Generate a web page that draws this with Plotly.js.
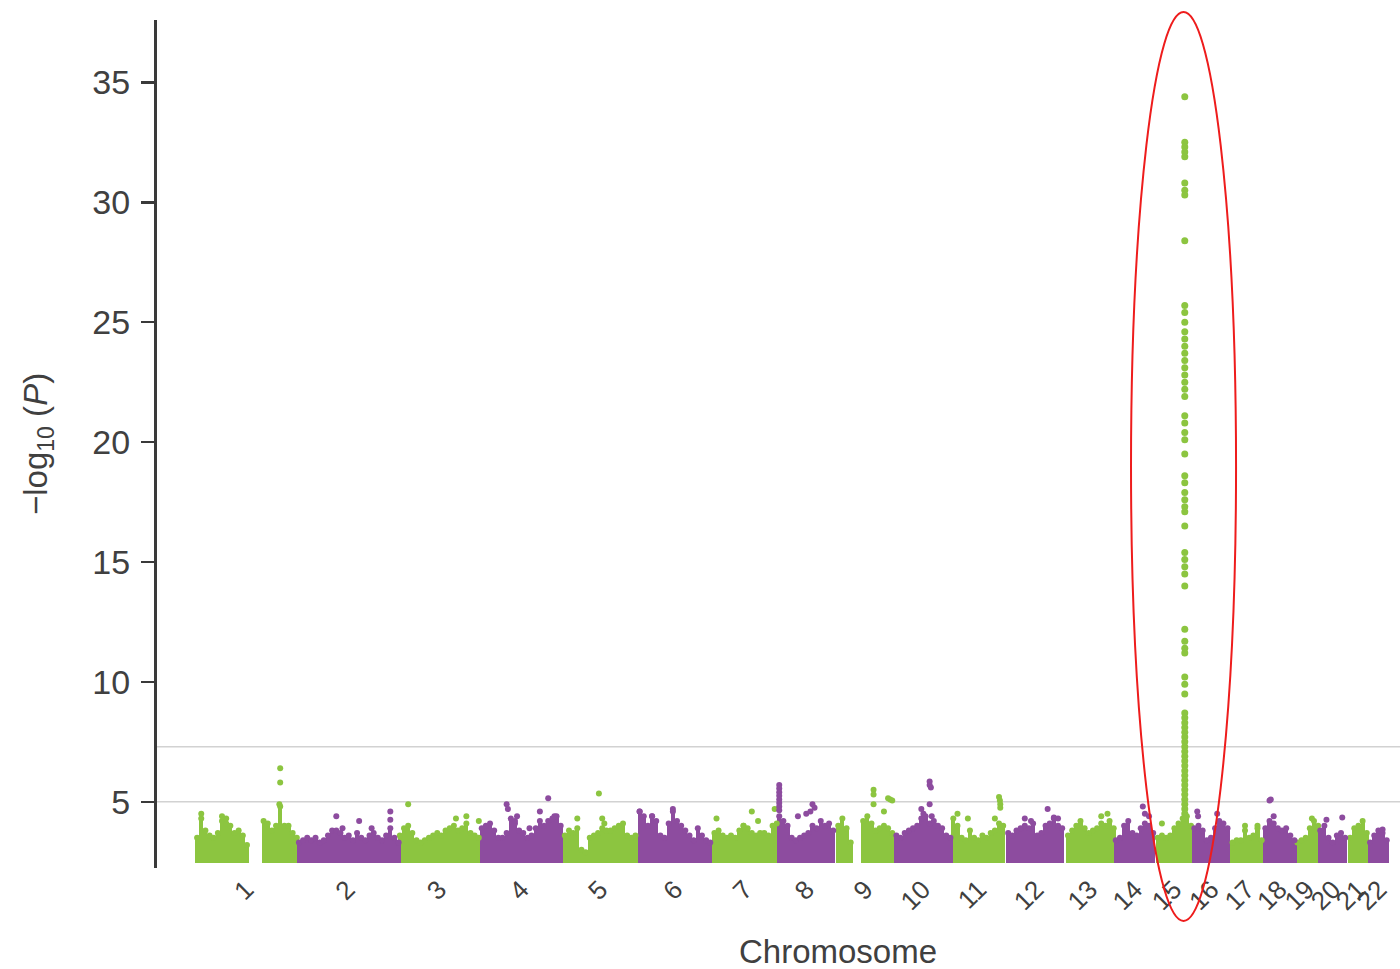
<!DOCTYPE html>
<html><head><meta charset="utf-8">
<script src="https://cdn.plot.ly/plotly-3.0.1.min.js"></script>
<style>html,body{margin:0;padding:0;background:#fff;overflow:hidden}#chart{width:1400px;height:969px}</style>
</head><body><div id="chart"></div>
<script>
// ---------------- DATA ----------------
const chromosomes = ['1','2','3','4','5','6','7','8','9','10','11','12','13','14','15','16','17','18','19','20','21','22'];
// plotted span of each chromosome (Mb)
const chromSpanMb = [245,243,197,200,180,180,156,142,140,137,132,144,115,101,88,92,79,77,55,72,48,53];
// top of the dense SNP cloud, one value per 10 Mb window (-log10 P); null = no SNPs
const columnTops = [
  [3.5,4.3,3.8,3.6,3.5,3.7,4.2,4.1,4.0,3.7,3.8,3.6,3.2,null,null,null,4.2,4.1,3.8,4.0,4.8,4.0,4.0,3.7,3.5],
  [3.3,3.4,3.5,3.4,3.5,3.3,3.4,3.6,3.8,3.8,3.7,3.5,3.6,3.4,3.7,3.5,3.4,3.6,3.7,3.5,3.4,3.6,3.9,3.5,3.3],
  [3.6,3.9,4.0,3.7,3.4,3.3,3.4,3.5,3.6,3.7,3.6,3.8,3.9,4.0,3.8,3.9,4.1,3.7,3.6,3.5],
  [3.9,4.0,4.1,3.8,3.5,3.5,3.7,4.3,4.1,3.8,3.7,3.5,3.6,3.9,4.2,4.0,4.2,4.3,4.4,4.0],
  [3.6,3.8,3.7,3.9,3.0,2.9,3.5,3.6,3.7,3.9,3.8,3.8,3.9,4.0,4.1,3.6,3.5,3.6],
  [4.6,4.4,4.0,4.4,4.2,3.6,3.5,4.1,4.7,4.2,4.0,3.8,3.6,3.4,3.9,3.6,3.4,3.3],
  [3.7,3.8,3.6,3.5,3.6,3.5,3.8,4.0,3.9,3.7,3.6,3.7,3.7,3.6,4.0,4.1],
  [4.4,4.2,4.0,3.5,3.4,3.5,3.6,3.7,4.0,3.9,4.2,4.0,4.1,3.8],
  [4.0,4.3,3.9,3.3,null,null,4.2,4.4,4.1,3.8,3.9,4.0,3.9,3.7],
  [3.6,3.5,3.7,3.8,3.9,4.0,4.3,4.4,4.1,4.2,4.0,3.9,3.6,3.5],
  [4.3,4.0,3.5,3.4,3.8,3.5,3.4,3.6,3.5,3.7,3.8,4.1,4.0],
  [3.7,3.6,3.8,3.9,4.0,3.9,4.1,3.6,3.7,4.0,4.1,4.3,4.0,3.9],
  [3.6,3.8,4.0,4.2,3.9,3.7,3.8,3.9,4.1,4.0,4.2,3.9],
  [3.4,3.5,4.0,4.2,3.7,3.6,3.9,4.1,4.0,3.7],
  [3.5,3.6,3.5,3.6,3.9,4.1,4.3,4.4,4.0],
  [3.9,4.0,3.8,3.4,3.5,3.9,4.2,4.1,3.9],
  [3.3,3.4,3.4,3.8,3.5,3.6,3.9,3.4],
  [3.9,4.2,4.1,3.9,3.8,3.9,3.6,3.4],
  [3.3,3.4,3.5,3.9,4.2,4.0],
  [3.8,4.0,3.5,3.3,3.6,3.7,3.5],
  [3.5,3.9,4.0,4.2,3.7],
  [3.3,3.6,3.8,3.7,3.4]
];
// isolated SNPs above the cloud: [position within chromosome (Mb), -log10 P]
const extraPoints = [
  [[15,4.5],[65,4.4],[75,4.3],[205,6.4],[205,5.8],[203,4.9]],
  [[95,4.4],[110,3.9],[150,4.2],[180,3.9],[225,4.6],[225,4.25]],
  [[25,4.9],[140,4.3],[165,4.4],[195,4.2]],
  [[65,4.9],[68,4.7],[85,4.2],[90,4.4],[120,3.9],[145,4.6],[165,5.15],[180,4.4]],
  [[35,4.3],[87,5.35],[95,4.3],[100,4.1]],
  [[5,4.6],[35,4.4],[85,4.6]],
  [[10,4.3],[75,4.0],[95,4.6],[110,4.2],[150,4.7]],
  [[5,5.7],[5,5.55],[5,5.4],[5,5.25],[5,5.1],[5,4.95],[5,4.8],[5,4.65],[50,4.4],[70,4.5],[80,4.6],[85,4.9],[90,4.75]],
  [[90,5.5],[90,5.3],[90,4.9],[115,4.6],[125,5.15],[130,5.1],[135,5.05]],
  [[65,4.7],[70,4.5],[85,5.85],[85,5.7],[88,5.6],[85,4.9],[90,4.4],[100,4.0]],
  [[15,4.5],[40,4.3],[105,4.3],[115,5.2],[117,5.05],[118,4.9],[118,4.75]],
  [[45,4.3],[60,4.2],[100,4.7],[115,4.35],[125,4.3]],
  [[85,4.4],[100,4.5]],
  [[70,4.8],[75,4.5],[85,4.4]],
  [[15,4.1]],
  [[12,4.6],[14,4.4],[60,4.5]],
  [[35,4.0],[65,4.0]],
  [[15,5.05],[18,5.1],[25,4.4]],
  [[40,4.3]],
  [[20,4.25],[58,4.35]],
  [],
  [[35,3.85]]
];
// the chromosome 15 signal
const peakChromosome = '15';
const peakPosMb = 70;
const peakValues = [34.4,32.5,32.3,32.1,31.9,30.8,30.5,30.3,28.4,25.7,25.4,25.0,24.6,24.3,24.0,23.7,23.4,23.1,22.8,22.5,22.2,21.9,21.1,20.8,20.4,20.1,19.5,18.6,18.3,17.9,17.6,17.3,17.1,16.5,15.4,15.1,14.8,14.5,14.0,12.2,11.7,11.4,11.2,10.2,9.9,9.5,8.7,8.5,8.3,8.1,7.9,7.7,7.5,7.3,7.1,6.9,6.7,6.5,6.3,6.1,5.9,5.7,5.5,5.3,5.1,4.9,4.7,4.5,4.3];
const thresholdLines = [7.3, 5];
const yTicks = [5,10,15,20,25,30,35];

// ---------------- BUILD ----------------
const GREEN = '#8cc540', PURPLE = '#8d4c9f';
const WINDOW = 10, CLOUD_BASE = 2.45;
const offsets = [];
let acc = 0;
chromSpanMb.forEach(s => { offsets.push(acc); acc += s; });
const centers = chromSpanMb.map((s, i) => offsets[i] + s / 2);

const groups = {g: {bx: [], by: [], px: [], py: []}, p: {bx: [], by: [], px: [], py: []}};
chromosomes.forEach((c, ci) => {
  const G = ci % 2 === 0 ? groups.g : groups.p;
  columnTops[ci].forEach((t, i) => {
    if (t === null) return;
    const x = offsets[ci] + i * WINDOW + WINDOW / 2;
    G.bx.push(x); G.by.push(t - CLOUD_BASE);
    G.px.push(x); G.py.push(t);
  });
  extraPoints[ci].forEach(([pos, v]) => { G.px.push(offsets[ci] + pos); G.py.push(v); });
});
const pci = chromosomes.indexOf(peakChromosome);
const peakX = peakValues.map(() => offsets[pci] + peakPosMb);

function barTrace(G, color) {
  return {type: 'bar', x: G.bx, y: G.by, base: CLOUD_BASE, width: WINDOW,
    marker: {color: color, line: {width: 0}}, hoverinfo: 'skip', showlegend: false};
}
function ptTrace(x, y, color, size) {
  return {type: 'scatter', mode: 'markers', x: x, y: y,
    marker: {color: color, size: size, line: {width: 0}}, hoverinfo: 'skip', showlegend: false};
}
const data = [
  barTrace(groups.g, GREEN), barTrace(groups.p, PURPLE),
  ptTrace(groups.g.px, groups.g.py, GREEN, 6), ptTrace(groups.p.px, groups.p.py, PURPLE, 6),
  ptTrace(peakX, peakValues, GREEN, 7)
];

const FONT = 'Liberation Sans, Arial, Helvetica, sans-serif';
const shapes = thresholdLines.map(v => ({type: 'line', xref: 'paper', x0: 0, x1: 1, yref: 'y', y0: v, y1: v,
  line: {color: '#d2d2d2', width: 1.5}, layer: 'below'}));
shapes.push({type: 'circle', xref: 'paper', yref: 'paper', x0: 0.7836, x1: 0.8681, y0: -0.0625, y1: 1.0094,
  line: {color: '#ee1c1c', width: 2}, fillcolor: 'rgba(0,0,0,0)'});

const layout = {
  width: 1400, height: 969,
  margin: {l: 157, r: 0, t: 20, b: 101, pad: 0},
  paper_bgcolor: '#ffffff', plot_bgcolor: '#ffffff',
  font: {family: FONT, color: '#404040'},
  barmode: 'overlay', bargap: 0,
  showlegend: false,
  xaxis: {range: [-91.5, 2900], tickmode: 'array', tickvals: centers, ticktext: chromosomes,
    tickangle: -45, tickfont: {size: 26, color: '#404040', family: FONT},
    showline: false, showgrid: false, zeroline: false, ticks: ''},
  yaxis: {range: [2.24, 37.6], tickmode: 'array', tickvals: yTicks,
    tickfont: {size: 34, color: '#404040', family: FONT},
    showline: true, linecolor: '#3a3a3a', linewidth: 3, ticks: 'outside', ticklen: 13,
    tickwidth: 2.5, tickcolor: '#3a3a3a', ticklabelstandoff: 4, showgrid: false, zeroline: false},
  shapes: shapes,
  annotations: [
    {text: 'Chromosome', xref: 'paper', yref: 'paper', x: 0.548, y: -0.099, xanchor: 'center', yanchor: 'middle',
      showarrow: false, font: {size: 33, color: '#404040', family: FONT}},
    {text: '\u2212log<sub>10</sub> (<i>P</i>)', xref: 'paper', yref: 'paper', x: -0.0957, y: 0.5,
      xanchor: 'center', yanchor: 'middle', textangle: -90, showarrow: false,
      font: {size: 33, color: '#404040', family: FONT}}
  ]
};
Plotly.newPlot('chart', data, layout, {displayModeBar: false, staticPlot: true});
</script>
</body></html>
